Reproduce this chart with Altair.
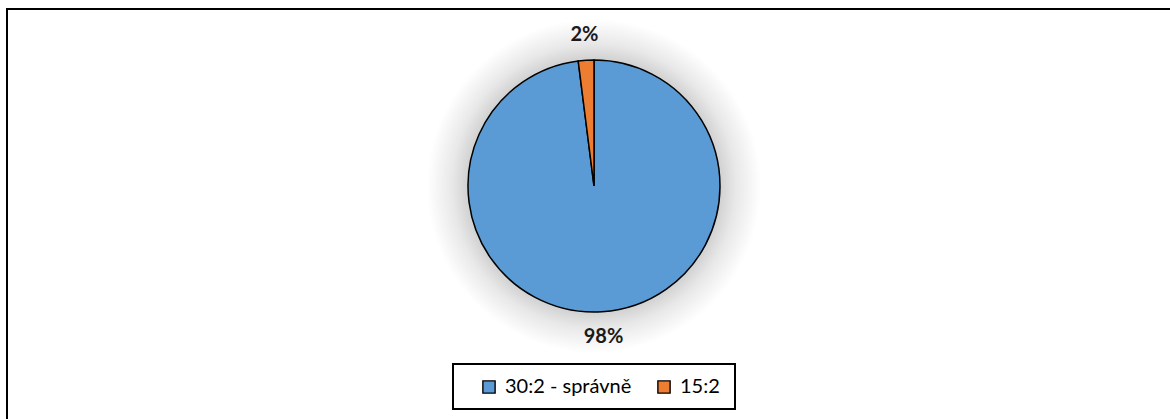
import altair as alt
import pandas as pd

# Podíl odpovědí: poměr kompresí a vdechů při KPR
kategorie = ["30:2 - správně", "15:2"]
podil = [98, 2]
popisky = ["98%", "2%"]
poradi = [1, 2]
barvy = ["#5B9BD5", "#ED7D31"]

df = pd.DataFrame({
    "kategorie": kategorie,
    "podil": podil,
    "popisek": popisky,
    "poradi": poradi,
})

W, H = 1170, 419
CX, CY, R = 594, 186, 126

one = pd.DataFrame({"k": [0]})

# Outer frame of the chart area
frame = alt.Chart(one).mark_rect(
    fill="white", stroke="black", strokeWidth=2
).encode(
    x=alt.value(7), x2=alt.value(W + 10),
    y=alt.value(9), y2=alt.value(H + 10),
)

# Soft glow behind the pie
glow = alt.Chart(one).mark_point(
    shape="circle", filled=True, opacity=1, strokeWidth=0,
    fill=alt.RadialGradient(
        gradient="radial",
        stops=[
            alt.GradientStop(offset=0.0, color="#d2d2d2"),
            alt.GradientStop(offset=0.76, color="#d2d2d2"),
            alt.GradientStop(offset=0.85, color="#e8e8e8"),
            alt.GradientStop(offset=1.0, color="#ffffff"),
        ],
        x1=0.5, y1=0.5, r1=0, x2=0.5, y2=0.5, r2=0.5,
    ),
).encode(
    x=alt.value(CX), y=alt.value(CY), size=alt.value(334 * 334),
)

base = alt.Chart(df).encode(
    theta=alt.Theta("podil:Q", stack=True),
    order=alt.Order("poradi:Q"),
)

pie = base.mark_arc(
    outerRadius=R, stroke="black", strokeWidth=1.5
).encode(
    x=alt.value(CX), y=alt.value(CY),
    color=alt.Color(
        "kategorie:N",
        scale=alt.Scale(domain=kategorie, range=barvy),
        sort=kategorie,
        legend=alt.Legend(
            title=None, orient="none", direction="horizontal",
            legendX=479, legendY=377, padding=0,
            symbolType="square", symbolSize=150,
            symbolStrokeColor="black", symbolStrokeWidth=1.4,
            symbolOpacity=1,
            labelFont="Lato", labelFontSize=20, labelColor="black",
            labelOffset=6, columnPadding=22, labelLimit=300,
        ),
    ),
)

labels = base.mark_text(
    radius=151, font="Lato", fontSize=20, fontWeight="bold", color="#1a1a1a"
).encode(
    x=alt.value(CX), y=alt.value(CY),
    text="popisek:N",
)

legend_box = alt.Chart(one).mark_rect(
    fill="none", stroke="black", strokeWidth=2
).encode(
    x=alt.value(453), x2=alt.value(735),
    y=alt.value(364), y2=alt.value(409),
)

chart = alt.layer(frame, glow, pie, labels, legend_box).properties(
    width=W, height=H, padding=0, autosize=alt.AutoSizeParams(type="none"),
    background="white",
).configure_view(stroke=None)

chart.save("out.html", embed_options={"renderer": "svg", "actions": False})
